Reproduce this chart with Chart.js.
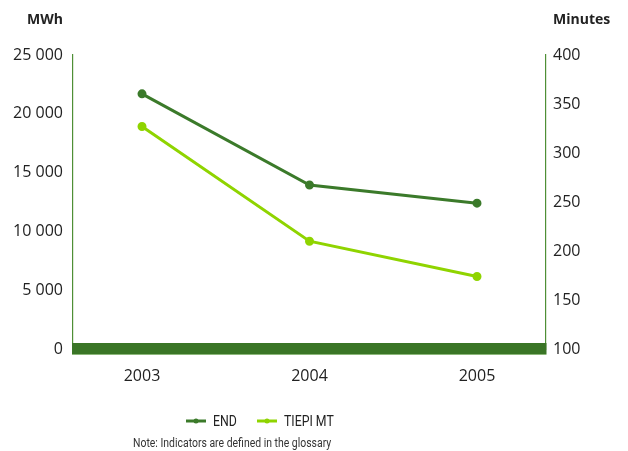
<!DOCTYPE html>
<html>
<head>
<meta charset="utf-8">
<script src="https://cdn.jsdelivr.net/npm/chart.js@4/dist/chart.umd.min.js"></script>
<style>
  html, body { margin: 0; padding: 0; background: #fff; }
  #wrap { width: 628px; height: 451px; position: relative; }
</style>
</head>
<body>
<div id="wrap"><canvas id="chart" width="628" height="451"></canvas></div>
<script>
const years = [2003, 2004, 2005];
const endValues = [21700, 13950, 12400];      // MWh
const tiepiValues = [327, 210, 174];          // minutes
const leftTicks = [0, 5000, 10000, 15000, 20000, 25000];
const rightTicks = [100, 150, 200, 250, 300, 350, 400];

const darkGreen = '#3b7a2a';
const lightGreen = '#8fd400';
const axisGreen = '#4f8f36';
const barGreen = '#3a7526';
const textColor = '#222';
const narrow = 'Roboto, "Liberation Sans", sans-serif';

function fmt(v) {
  return String(v).replace(/\B(?=(\d{3})+(?!\d))/g, ' ');
}

// narrow text: squeeze horizontally since no condensed face is installed
function narrowText(ctx, text, x, y, sx) {
  ctx.save();
  ctx.translate(x, y);
  ctx.scale(sx, 1);
  ctx.fillText(text, 0, 0);
  ctx.restore();
}

// thick baseline bar under the plot
const baseBar = {
  id: 'baseBar',
  beforeDatasetsDraw(chart) {
    const ctx = chart.ctx;
    const area = chart.chartArea;
    const y = chart.scales.yLeft.getPixelForValue(0);
    ctx.save();
    ctx.fillStyle = barGreen;
    ctx.fillRect(area.left - 1, y - 6, area.right - area.left + 1.5, 11);
    ctx.fillStyle = '#8cb77a';
    ctx.fillRect(area.left - 1, y + 5, area.right - area.left + 1.5, 1);
    ctx.restore();
  }
};

// titles, legend and note
const extras = {
  id: 'extras',
  afterDraw(chart) {
    const ctx = chart.ctx;
    ctx.save();
    ctx.fillStyle = textColor;
    ctx.textBaseline = 'middle';
    ctx.font = 'bold 14px "Open Sans", sans-serif';
    ctx.textAlign = 'right';
    ctx.fillText('MWh', 63, 20);
    ctx.textAlign = 'left';
    ctx.fillText('Minutes', 553, 20);

    const items = [
      { label: 'END', color: darkGreen, x: 186 },
      { label: 'TIEPI MT', color: lightGreen, x: 257 }
    ];
    const ly = 421;
    ctx.font = '15px ' + narrow;
    items.forEach(it => {
      ctx.strokeStyle = it.color;
      ctx.fillStyle = it.color;
      ctx.lineWidth = 3;
      ctx.beginPath();
      ctx.moveTo(it.x, ly);
      ctx.lineTo(it.x + 20, ly);
      ctx.stroke();
      ctx.beginPath();
      ctx.arc(it.x + 10, ly, 2.5, 0, Math.PI * 2);
      ctx.fill();
      ctx.fillStyle = textColor;
      narrowText(ctx, it.label, it.x + 27, ly + 1, 0.82);
    });

    ctx.font = '12px ' + narrow;
    ctx.fillStyle = '#333';
    narrowText(ctx, 'Note: Indicators are defined in the glossary', 133, 444, 0.87);
    ctx.restore();
  }
};

new Chart(document.getElementById('chart'), {
  type: 'line',
  data: {
    datasets: [
      {
        label: 'END',
        data: years.map((y, i) => ({ x: y, y: endValues[i] })),
        yAxisID: 'yLeft',
        borderColor: darkGreen,
        backgroundColor: darkGreen,
        borderWidth: 3,
        pointRadius: 3,
        pointHoverRadius: 3,
        tension: 0
      },
      {
        label: 'TIEPI MT',
        data: years.map((y, i) => ({ x: y, y: tiepiValues[i] })),
        yAxisID: 'yRight',
        borderColor: lightGreen,
        backgroundColor: lightGreen,
        borderWidth: 3,
        pointRadius: 3,
        pointHoverRadius: 3,
        tension: 0
      }
    ]
  },
  options: {
    responsive: false,
    animation: false,
    layout: { padding: { left: 0, right: 0, top: 55, bottom: 57 } },
    plugins: { legend: { display: false }, tooltip: { enabled: false } },
    scales: {
      x: {
        type: 'linear',
        min: 2002.588,
        max: 2005.412,
        afterBuildTicks: s => { s.ticks = years.map(v => ({ value: v })); },
        afterFit: s => { s.height = 45; },
        grid: { display: false, drawTicks: false },
        border: { display: false },
        ticks: {
          padding: 18,
          color: textColor,
          font: { family: '"Open Sans", sans-serif', size: 16 },
          callback: v => String(v)
        }
      },
      yLeft: {
        position: 'left',
        min: 0,
        max: 25000,
        afterBuildTicks: s => { s.ticks = leftTicks.map(v => ({ value: v })); },
        afterFit: s => { s.width = 73; },
        grid: { display: false, drawTicks: false },
        border: { display: true, color: axisGreen, width: 1.2 },
        ticks: {
          padding: 10,
          color: textColor,
          font: { family: '"Open Sans", sans-serif', size: 16 },
          callback: v => fmt(v)
        }
      },
      yRight: {
        position: 'right',
        min: 100,
        max: 400,
        afterBuildTicks: s => { s.ticks = rightTicks.map(v => ({ value: v })); },
        afterFit: s => { s.width = 82; },
        grid: { display: false, drawTicks: false },
        border: { display: true, color: axisGreen, width: 1.2 },
        ticks: {
          padding: 7,
          color: textColor,
          font: { family: '"Open Sans", sans-serif', size: 16 },
          callback: v => String(v)
        }
      }
    }
  },
  plugins: [baseBar, extras]
});
</script>
</body>
</html>
